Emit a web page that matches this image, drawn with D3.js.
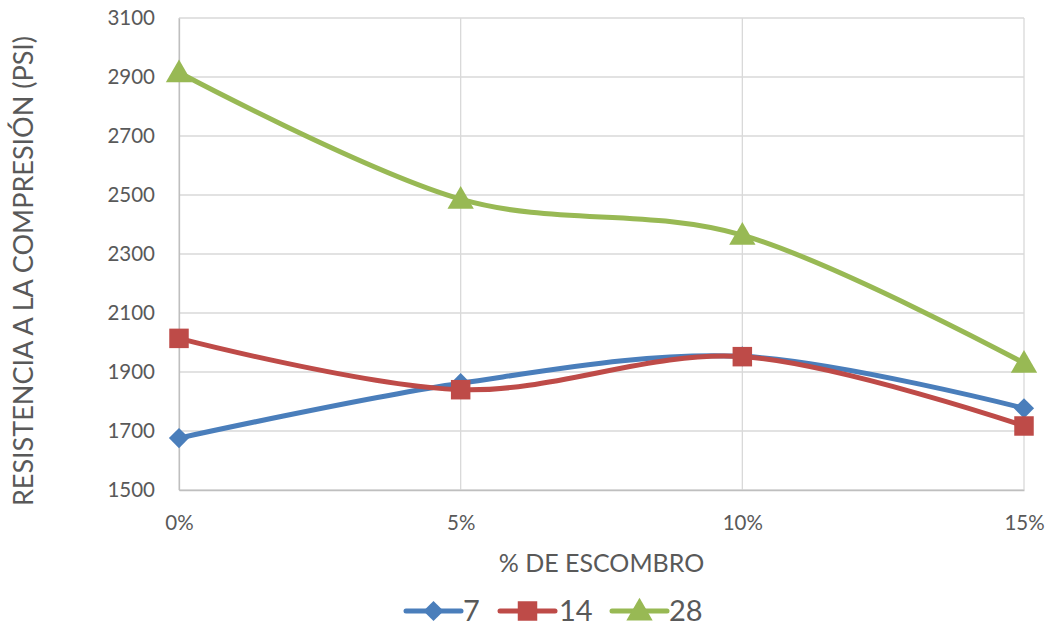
<!DOCTYPE html>
<html>
<head>
<meta charset="utf-8">
<script src="https://cdn.jsdelivr.net/npm/d3@7/dist/d3.min.js"></script>
<style>
  html, body { margin: 0; padding: 0; background: #fff; }
  svg text { font-family: Lato, "Open Sans", sans-serif; fill: #595959; }
</style>
</head>
<body>
<svg id="chart" width="1054" height="630"></svg>
<script>
// Compressive strength (psi) by rubble percentage, for 7, 14 and 28 days of curing
const categories = ["0%", "5%", "10%", "15%"];
const series7 = [1676, 1862, 1953, 1777];
const series14 = [2014, 1840, 1952, 1717];
const series28 = [2915, 2486, 2364, 1930];
const seriesNames = ["7", "14", "28"];
const yTicks = [1500, 1700, 1900, 2100, 2300, 2500, 2700, 2900, 3100];

const colors = ["#4A7EBB", "#BE4B48", "#98B954"];
const symbols = [d3.symbolDiamond2, d3.symbolSquare, d3.symbolTriangle];
const symbolSizes = [260, 380, 300];

const svg = d3.select("#chart");
const plotLeft = 179, plotRight = 1024, plotTop = 18, plotBottom = 490;

const x = d3.scalePoint().domain(categories).range([plotLeft, plotRight]);
const y = d3.scaleLinear().domain([1500, 3100]).range([plotBottom, plotTop]);

// Grid lines
svg.append("g").selectAll("line").data(yTicks).join("line")
  .attr("x1", plotLeft).attr("x2", plotRight)
  .attr("y1", d => y(d)).attr("y2", d => y(d))
  .attr("stroke", "#D9D9D9").attr("stroke-width", 1.3);
svg.append("g").selectAll("line").data(categories).join("line")
  .attr("x1", d => x(d)).attr("x2", d => x(d))
  .attr("y1", plotTop).attr("y2", plotBottom)
  .attr("stroke", "#D9D9D9").attr("stroke-width", 1.3);

// Axes (labels only, tick marks hidden)
const yAxis = svg.append("g").attr("transform", `translate(${plotLeft},0)`)
  .call(d3.axisLeft(y).tickValues(yTicks).tickSize(0).tickPadding(24).tickFormat(d3.format("d")));
yAxis.select(".domain").attr("stroke", "#BFBFBF").attr("stroke-width", 1.3);
yAxis.selectAll("text").style("font-size", "20.5px").attr("fill", "#595959");

const xAxis = svg.append("g").attr("transform", `translate(0,${plotBottom})`)
  .call(d3.axisBottom(x).tickSize(0).tickPadding(25));
xAxis.select(".domain").attr("stroke", "#BFBFBF").attr("stroke-width", 1.3);
xAxis.selectAll("text").style("font-size", "20.5px").attr("fill", "#595959");

// Axis titles
svg.append("text")
  .attr("x", (plotLeft + plotRight) / 2).attr("y", 572)
  .attr("text-anchor", "middle").style("font-size", "25px")
  .text("% DE ESCOMBRO");
svg.append("text")
  .attr("transform", `translate(33,${(plotTop + plotBottom) / 2 + 17}) rotate(-90)`)
  .attr("text-anchor", "middle").style("font-size", "27px")
  .text("RESISTENCIA A LA COMPRESIÓN (PSI)");

// Smoothed lines with markers
const allSeries = [series7, series14, series28];
const line = d3.line()
  .x((d, i) => x(categories[i]))
  .y(d => y(d))
  .curve(d3.curveCatmullRom.alpha(0));

allSeries.forEach((vals, s) => {
  svg.append("path").datum(vals)
    .attr("d", line)
    .attr("fill", "none")
    .attr("stroke", colors[s])
    .attr("stroke-width", 5)
    .attr("stroke-linecap", "round")
    .attr("stroke-linejoin", "round");
});
allSeries.forEach((vals, s) => {
  svg.append("g").selectAll("path").data(vals).join("path")
    .attr("d", d3.symbol().type(symbols[s]).size(symbolSizes[s]))
    .attr("transform", (d, i) => `translate(${x(categories[i])},${y(d) + (s === 2 ? 2 : 0)})`)
    .attr("fill", colors[s]);
});

// Legend
const legendItems = [
  { x0: 406, tx: 463 },
  { x0: 500, tx: 559 },
  { x0: 612, tx: 669 }
];
const ly = 611;
legendItems.forEach((it, s) => {
  const g = svg.append("g");
  g.append("line")
    .attr("x1", it.x0).attr("x2", it.x0 + 55)
    .attr("y1", ly).attr("y2", ly)
    .attr("stroke", colors[s]).attr("stroke-width", 5)
    .attr("stroke-linecap", "round");
  g.append("path")
    .attr("d", d3.symbol().type(symbols[s]).size(symbolSizes[s]))
    .attr("transform", `translate(${it.x0 + 27.5},${ly + (s === 2 ? 2 : 0)})`)
    .attr("fill", colors[s]);
  g.append("text")
    .attr("x", it.tx).attr("y", ly).attr("dy", "0.36em")
    .style("font-size", "29px")
    .text(seriesNames[s]);
});
</script>
</body>
</html>
